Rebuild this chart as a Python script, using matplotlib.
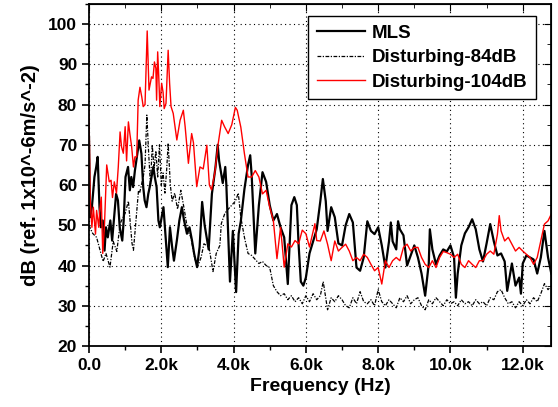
import matplotlib
matplotlib.use('Agg')
import matplotlib.pyplot as plt
from matplotlib.ticker import MultipleLocator, FixedLocator, FixedFormatter

plt.rcParams['font.family'] = ['Liberation Sans', 'DejaVu Sans']
plt.rcParams['font.weight'] = 'bold'

# MLS measurement (Hz, dB)
mls_hz = [0, 30, 80, 150, 200, 240, 290, 330, 380, 430, 470, 520, 590, 640, 710, 750, 800, 850,
          920, 960, 1010, 1080, 1130, 1170, 1220, 1270, 1310, 1390, 1450, 1500, 1540, 1590, 1640,
          1680, 1780, 1820, 1870, 1920, 1960, 2060, 2100, 2180, 2240, 2300, 2350, 2430, 2500, 2570,
          2630, 2710, 2780, 2850, 2910, 2990, 3060, 3130, 3200, 3310, 3400, 3500, 3560, 3600, 3700,
          3770, 3800, 3900, 3980, 4070, 4140, 4200, 4300, 4400, 4460, 4500, 4600, 4700, 4800, 4900,
          5000, 5100, 5200, 5300, 5400, 5500, 5550, 5600, 5680, 5750, 5800, 5860, 5930, 6000, 6100,
          6200, 6300, 6400, 6470, 6550, 6600, 6700, 6800, 6900, 7000, 7100, 7200, 7300, 7400, 7500,
          7600, 7700, 7800, 7900, 8000, 8100, 8200, 8300, 8350, 8400, 8500, 8550, 8600, 8700, 8800,
          8900, 9000, 9100, 9200, 9300, 9400, 9430, 9500, 9600, 9700, 9800, 9900, 10000, 10100,
          10150, 10200, 10300, 10400, 10500, 10600, 10700, 10800, 10900, 11000, 11100, 11200, 11300,
          11400, 11500, 11570, 11700, 11800, 11900, 11950, 12000, 12100, 12200, 12300, 12400, 12500,
          12600, 12700, 12790]
mls_db = [72, 52, 54.5, 62, 64.5, 67, 54.5, 49.5, 51.2, 43.7, 49.5, 47, 51.2, 46.2, 53.7, 57.8, 56.2, 49.5,
          46.2, 51.2, 62, 64.5, 58.7, 62, 59.5, 63.6, 66.1, 71.1, 67.8, 59.5, 56.2, 54.5, 57.8,
          59.5, 64.5, 62, 59.5, 51.2, 49.5, 54.5, 49.5, 39.6, 49.5, 44.6, 41.2, 46.2, 51.2, 54.5,
          51.2, 47.9, 49.5, 46.2, 42.9, 39.6, 44.6, 55.8, 50, 44, 57.8, 64.5, 70, 66, 60.5,
          64.5, 60, 36, 48.6, 33.4, 47.9, 51, 59, 65, 67.4, 62.5, 43, 55, 63.2, 60.8,
          55, 51.2, 52.8, 49.5, 47, 35.4, 45, 55, 57, 55, 45, 36, 35, 37, 43,
          46, 49, 56, 61.5, 56, 48.6, 54.5, 52, 45.5, 45, 50, 52.8, 50.7, 39.5, 38.7,
          42, 51, 48.6, 47.8, 49.5, 45, 39.5, 46, 50.7, 46, 44, 51, 49, 47.5, 40,
          42.5, 45, 42, 38, 32.5, 40.5, 49, 44, 40.3, 42.5, 44, 43.5, 45, 42,
          32, 38, 45, 48, 49.5, 51.5, 49, 44, 41, 45.5, 50.3, 46, 42.5,
          43, 41, 33.7, 40.5, 35, 37, 33, 40.5, 42.5, 42, 41.5, 38, 42,
          48.6, 42, 38]

# Disturbing-84dB (Hz, dB)
d84_hz = [0, 100, 210, 300, 390, 470, 580, 670, 770, 860, 1000, 1090, 1190, 1230, 1370, 1400, 1500,
          1550, 1600, 1650, 1700, 1750, 1800, 1850, 1900, 1950, 2000, 2050, 2100, 2150, 2190, 2250,
          2300, 2370, 2450, 2540, 2640, 2730, 2820, 2920, 3000, 3100, 3180, 3320, 3430, 3520, 3620,
          3660, 3760, 3850, 3950, 4050, 4130, 4200, 4300, 4400, 4500, 4600, 4700, 4800, 4900, 5000,
          5100, 5200, 5300, 5400, 5500, 5600, 5700, 5800, 5900, 6000, 6100, 6200, 6300, 6400, 6480,
          6600, 6700, 6800, 6900, 7000, 7100, 7200, 7300, 7400, 7500, 7600, 7700, 7800, 7900, 8000,
          8100, 8200, 8300, 8400, 8500, 8600, 8700, 8800, 8900, 9000, 9100, 9200, 9300, 9400, 9500,
          9600, 9700, 9800, 9900, 10000, 10100, 10200, 10300, 10400, 10500, 10600, 10700, 10800,
          10900, 11000, 11100, 11200, 11300, 11400, 11500, 11600, 11700, 11800, 11900, 12000, 12100,
          12200, 12300, 12400, 12500, 12600, 12700, 12790]
d84_db = [50, 48, 47, 44, 41, 43, 39.6, 46, 43.5, 50.4, 53, 56, 45.5, 43.8, 58.7, 58, 62,
          65, 77.4, 68, 60, 70, 64, 68.5, 62, 70, 60, 63, 58, 64, 70.4, 60,
          56, 58, 54, 58.7, 53.7, 48.7, 47, 42, 39.6, 42, 45.4, 44.6, 38.5, 43, 45,
          50.4, 53, 54, 55, 56, 58, 52, 47, 43, 42.5, 41.5, 40.5, 41, 40, 39.5,
          35, 33.5, 32.5, 33, 31.5, 32.5, 31, 32, 30.5, 32.5, 31, 33, 31.5, 32.5, 36,
          29, 32, 31, 32.5, 31.5, 30, 29.5, 32, 30.5, 33.5, 31, 30.5, 31.5, 30, 34,
          31, 30, 31.5, 30.5, 29.5, 32, 31, 32.5, 30.5, 31.5, 32, 30, 29, 31.5, 30.5,
          32, 31, 30, 31.5, 30.5, 31, 30, 31.5, 30.5, 31, 30, 31.5, 30.5,
          31, 30, 32, 31.5, 33.5, 34, 32, 30.5, 31, 29.5, 31, 30, 31.5,
          30.5, 32, 31, 33, 35.5, 34, 35]

# Disturbing-104dB (Hz, dB)
d104_hz = [0, 30, 80, 120, 180, 210, 270, 300, 340, 380, 430, 490, 560, 610, 650, 700, 760, 810,
           860, 900, 950, 1000, 1040, 1090, 1130, 1180, 1230, 1270, 1320, 1360, 1410, 1460, 1500,
           1550, 1610, 1660, 1730, 1770, 1810, 1850, 1870, 1900, 1930, 1960, 2010, 2050, 2080, 2130,
           2190, 2230, 2270, 2330, 2430, 2520, 2610, 2660, 2750, 2840, 2890, 2980, 3070, 3160, 3260,
           3330, 3390, 3480, 3570, 3670, 3750, 3850, 3950, 4050, 4100, 4200, 4300, 4400, 4500, 4600,
           4700, 4800, 4900, 5000, 5100, 5200, 5300, 5400, 5500, 5600, 5700, 5800, 5900, 6000, 6100,
           6250, 6300, 6400, 6500, 6600, 6700, 6800, 6900, 7000, 7100, 7200, 7300, 7400, 7500, 7600,
           7700, 7800, 7900, 8000, 8100, 8200, 8300, 8400, 8500, 8600, 8700, 8800, 8900, 9000, 9100,
           9200, 9300, 9400, 9500, 9600, 9700, 9800, 9900, 10000, 10100, 10200, 10300, 10400, 10500,
           10600, 10700, 10800, 10900, 11000, 11100, 11200, 11300, 11350, 11400, 11500, 11600, 11700,
           11800, 11900, 12000, 12100, 12200, 12300, 12400, 12500, 12600, 12700, 12790]
d104_db = [78.6, 57, 49.5, 54.5, 47.8, 53.7, 49.5, 54, 57, 43, 50.5, 65, 60.8, 61.2, 56.9, 60.8, 58, 64.5,
           73.2, 69.5, 67.9, 74.5, 66, 75.7, 72.8, 69.5, 64.5, 67, 67, 81.1, 84.3, 81.9, 79.5,
           80, 98.3, 83.6, 86.9, 86.5, 90.6, 89, 81.1, 93.1, 86.9, 79.5, 85.3, 83, 79, 80.3,
           93.5, 85.3, 79.5, 77.8, 71.2, 76.1, 78.6, 74.5, 65.4, 72.8, 70.5, 59.6, 64.5, 64, 69.9,
           60, 58.8, 63, 70, 76.1, 74.5, 72.8, 75, 79.3, 78.6, 74.4, 67.8, 62, 62, 63.6,
           62, 57.8, 58.7, 54.5, 51.2, 41.7, 49.5, 39.6, 45.4, 44.6, 46.2, 45.4, 48.8, 47.9, 44.6,
           50.4, 46.2, 46.1, 48.6, 45.3, 41.2, 46.1, 43.6, 44.5, 45.3, 43.6, 41.2, 42, 41.2, 42.8,
           42, 40.3, 38.7, 39.5, 35.4, 41.2, 39.5, 41.2, 42, 41.2, 44.5, 45.3, 43.6, 44.5, 44.5,
           42, 40.3, 39.5, 41.2, 39.5, 42, 43.5, 43.2, 42.8, 42, 42.8, 40.3, 39.5, 41.2,
           40.3, 39.5, 41.2, 41.2, 42.8, 43.6, 42.8, 47.8, 52.4, 48.6, 46.1, 47, 45.3,
           43.6, 44.5, 43.6, 42.8, 42, 40.3, 42, 46.1, 50.3, 51.1, 52.8]

xtick_pos = [0, 2000, 4000, 6000, 8000, 10000, 12000]
xtick_labels = ['0.0', '2.0k', '4.0k', '6.0k', '8.0k', '10.0k', '12.0k']

fig = plt.figure(figsize=(5.58, 4.07), dpi=100)
ax = fig.add_axes([0.1595, 0.1499, 0.8285, 0.8403])

ax.plot(mls_hz, mls_db, color='black', lw=1.6, label='MLS')
ax.plot(d84_hz, d84_db, color='black', lw=0.9, linestyle=(0, (3, 1.2, 1, 1.2)), label='Disturbing-84dB')
ax.plot(d104_hz, d104_db, color='red', lw=1.0, label='Disturbing-104dB')

ax.set_xlim(0, 12790)
ax.set_ylim(20, 105)

ax.xaxis.set_major_locator(FixedLocator(xtick_pos))
ax.xaxis.set_major_formatter(FixedFormatter(xtick_labels))
ax.xaxis.set_minor_locator(MultipleLocator(1000))
ax.yaxis.set_major_locator(FixedLocator([20, 30, 40, 50, 60, 70, 80, 90, 100]))
ax.yaxis.set_minor_locator(MultipleLocator(5))

ax.grid(True, which='major', color='black', linestyle=(0, (1, 3)), lw=0.8)
ax.tick_params(which='major', direction='out', length=5, width=1.2, labelsize=12.5)
ax.tick_params(which='minor', direction='out', length=3, width=1.0)
for s in ax.spines.values():
    s.set_linewidth(1.3)

# inward ticks on top and right like the original
top = ax.secondary_xaxis('top')
top.xaxis.set_major_locator(FixedLocator(xtick_pos))
top.xaxis.set_minor_locator(MultipleLocator(1000))
top.tick_params(which='both', direction='in', labeltop=False)
top.tick_params(which='major', length=5)
top.tick_params(which='minor', length=3)
right = ax.secondary_yaxis('right')
right.yaxis.set_major_locator(MultipleLocator(10))
right.yaxis.set_minor_locator(MultipleLocator(5))
right.tick_params(which='both', direction='in', labelright=False)
right.tick_params(which='major', length=5)
right.tick_params(which='minor', length=3)

ax.set_xlabel('Frequency (Hz)', fontsize=14, fontweight='bold', labelpad=4)
ax.set_ylabel('dB (ref. 1x10^-6m/s^-2)', fontsize=14.5, fontweight='bold', labelpad=6)

leg = ax.legend(loc='upper right', bbox_to_anchor=(0.967, 0.965), borderaxespad=0,
                prop={'family': 'Liberation Sans', 'weight': 'bold', 'size': 13.5},
                fancybox=False, edgecolor='black', framealpha=1,
                handlelength=2.6, handletextpad=0.35, labelspacing=0.4, borderpad=0.45)
leg.get_frame().set_linewidth(1.0)

fig.savefig('out.png', dpi=100)
